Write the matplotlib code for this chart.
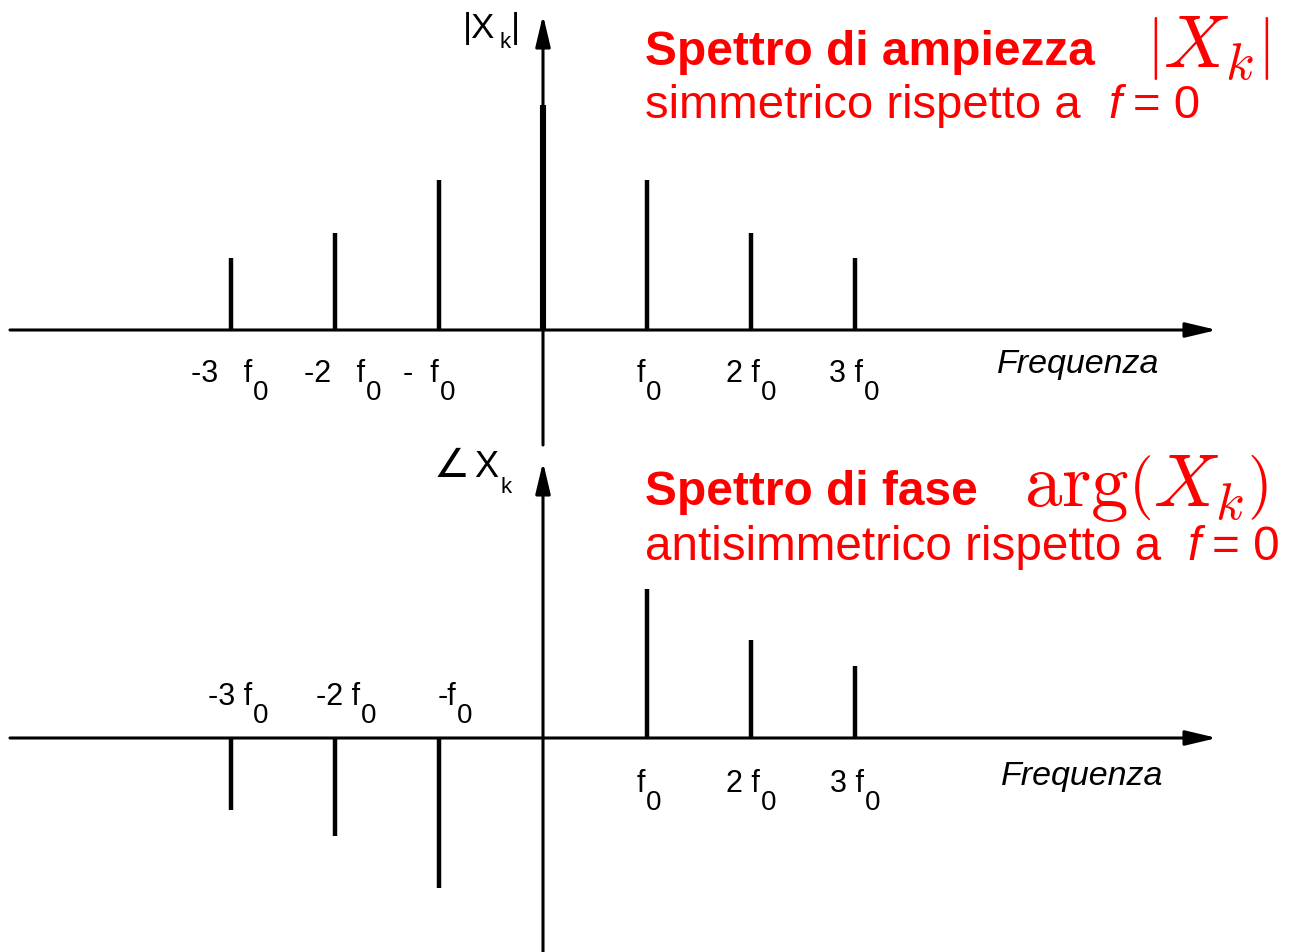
import numpy as np
import matplotlib.pyplot as plt

plt.rcParams['font.family'] = ['Liberation Sans', 'DejaVu Sans']

# harmonic index and spectra (arbitrary units)
k = np.array([-3, -2, -1, 0, 1, 2, 3])
ampiezza = np.array([0.32, 0.43, 0.667, 1.0, 0.667, 0.43, 0.32])
fase = np.array([-0.32, -0.435, -0.667, 0.0, 0.662, 0.436, 0.32])

labels_amp = ['-3   f', '-2   f', '-  f', '', 'f', '2 f', '3 f']
labels_fase = ['-3 f', '-2 f', '-f', '', 'f', '2 f', '3 f']
# right edge of each label (before the subscript), in units of f0 from the stem
dx_amp = [0.20, 0.29, 0.0, 0, -0.02, 0.09, 0.08]
dx_fase = [0.20, 0.24, 0.17, 0, -0.02, 0.09, 0.09]

W, H = 1289, 952
fig = plt.figure(figsize=(W / 100, H / 100), dpi=100)

px_x = 104.0   # pixels per f0
px_y = 225.0   # pixels per unit
x0 = 543.0

ax = fig.add_axes([0, 1 - 450 / H, 1, 450 / H])
ax2 = fig.add_axes([0, 0, 1, 502 / H])
ax.set_xlim(-x0 / px_x, (W - x0) / px_x)
ax.set_ylim(-120 / px_y, 330 / px_y)
ax2.set_xlim(-x0 / px_x, (W - x0) / px_x)
ax2.set_ylim(-(952 - 738) / px_y, (738 - 450) / px_y)
for a in (ax, ax2):
    a.axis('off')

arrow = dict(arrowstyle='-|>,head_length=1.9,head_width=0.45', mutation_scale=10,
             lw=2.2, color='k', shrinkA=0, shrinkB=0)
xl, xr = (10 - x0) / px_x, (1217 - x0) / px_x
drop = 18 / px_y


def sub_label(a, x, y, main, sub, size=22, subsize=20, ha='right', gap=0.5):
    t = a.text(x, y, main, ha=ha, va='baseline', fontsize=size)
    a.annotate(sub, xy=(1, y - drop), xycoords=(t, a.transData),
               xytext=(gap, 0), textcoords='offset points',
               ha='left', va='baseline', fontsize=subsize)
    return t


# amplitude spectrum
ax.annotate('', xy=(xr, 0), xytext=(xl, 0), arrowprops=arrow)
ax.annotate('', xy=(0, 315 / px_y), xytext=(0, -115 / px_y), arrowprops=arrow)
lw = np.where(k == 0, 4.4, 3.2)
ax.vlines(k, 0, ampiezza, colors='k', linewidth=lw)
for xi, lab, dx in zip(k, labels_amp, dx_amp):
    if lab:
        sub_label(ax, xi + dx, -52 / px_y, lab, '0')
ax.text(4.365, -0.19, 'Frequenza', style='italic', fontsize=24.5, va='baseline')

t = ax.text(-0.769, 292 / px_y, '|X', fontsize=25, va='baseline')
t = ax.annotate('k', xy=(1, 282 / px_y), xycoords=(t, ax.transData),
                xytext=(3, 0), textcoords='offset points', va='baseline',
                fontsize=16)
ax.annotate('|', xy=(1, 292 / px_y), xycoords=(t, ax.transData),
            xytext=(0, 0), textcoords='offset points', va='baseline', fontsize=25)

# phase spectrum
ax2.annotate('', xy=(xr, 0), xytext=(xl, 0), arrowprops=arrow)
ax2.annotate('', xy=(0, (738 - 462) / px_y), xytext=(0, -(952 - 738) / px_y),
             arrowprops=arrow)
ax2.vlines(k, 0, fase, colors='k', linewidth=3.2)
for xi, lab, dx, v in zip(k, labels_fase, dx_fase, fase):
    if v < 0:
        sub_label(ax2, xi + dx, 33 / px_y, lab, '0')
    elif v > 0:
        sub_label(ax2, xi + dx, -54 / px_y, lab, '0')
ax2.text(4.404, -0.209, 'Frequenza', style='italic', fontsize=24.5, va='baseline')

t = ax2.text(-1.05, 261 / px_y, '∠', fontsize=29, va='baseline',
             family='DejaVu Sans')
t = ax2.annotate('X', xy=(1, 261 / px_y), xycoords=(t, ax2.transData),
                 xytext=(3, 0), textcoords='offset points', va='baseline',
                 fontsize=26)
ax2.annotate('k', xy=(1, 245 / px_y), xycoords=(t, ax2.transData),
             xytext=(2, 0), textcoords='offset points', va='baseline',
             fontsize=16)

# red captions
red = '#ff0000'
fig.text(645 / W, 1 - 65 / H, 'Spettro di ampiezza', color=red, fontsize=34.5,
         fontweight='bold', va='baseline')
fig.text(1146 / W, 1 - 68 / H, r'$\left|X_k\right|$', color=red, fontsize=54,
         va='baseline', math_fontfamily='cm')
fig.text(645 / W, 1 - 118 / H, 'simmetrico rispetto a  ', color=red,
         fontsize=34, va='baseline')
fig.text(1108 / W, 1 - 118 / H, 'f', color=red, fontsize=34, style='italic',
         va='baseline')
fig.text(1133 / W, 1 - 118 / H, '= 0', color=red, fontsize=34, va='baseline')

fig.text(645 / W, 1 - 505 / H, 'Spettro di fase', color=red, fontsize=34.5,
         fontweight='bold', va='baseline')
fig.text(1024 / W, 1 - 507 / H, r'$\mathrm{arg}\left(X_k\right)$', color=red,
         fontsize=54, va='baseline', math_fontfamily='cm')
fig.text(645 / W, 1 - 560 / H, 'antisimmetrico rispetto a  ', color=red,
         fontsize=34.3, va='baseline')
fig.text(1187 / W, 1 - 560 / H, 'f', color=red, fontsize=34.3, style='italic',
         va='baseline')
fig.text(1212 / W, 1 - 560 / H, '= 0', color=red, fontsize=34.3, va='baseline')

fig.savefig('out.png', dpi=100, facecolor='white')
